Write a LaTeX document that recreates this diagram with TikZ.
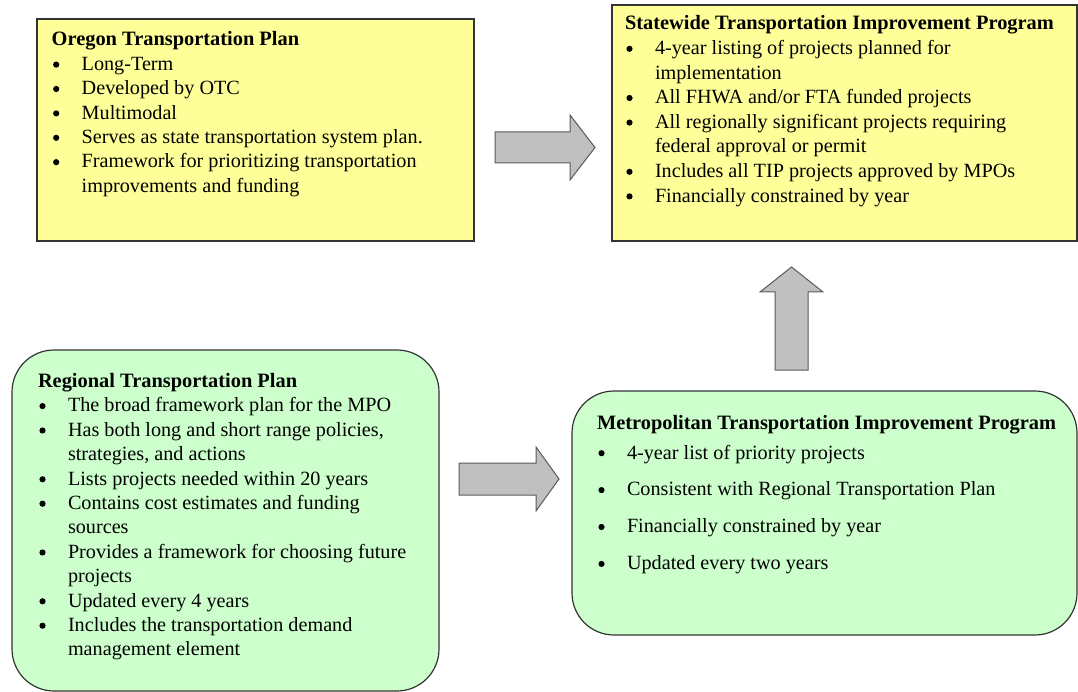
\documentclass[tikz,border=0pt]{standalone}
\usepackage{fontspec}
\setmainfont{Liberation Serif}
\definecolor{boxyellow}{HTML}{FFFF99}
\definecolor{boxgreen}{HTML}{CCFFCC}
\definecolor{arrowfill}{HTML}{C0C0C0}
\definecolor{arrowline}{HTML}{5A5A5A}
\definecolor{edgecol}{HTML}{333333}
\newcommand\bigbullet{\tikz[baseline=0pt]\fill[black] (0pt,5.8pt) circle[radius=3.1pt];}
\newcommand\bul[1]{\par\makebox[30pt][l]{\hspace*{4.5pt}\makebox[0pt]{\bigbullet}}#1}
\newcommand\cnt[1]{\par\hspace*{30pt}#1}
\newcommand\ttl[1]{{\fontsize{20.4}{20}\selectfont\textbf{#1}}}
\newcommand\boxtext[2]{\begin{minipage}[t]{480pt}\fontsize{20.2}{#1}\selectfont\raggedright\parindent=0pt #2\end{minipage}}
\begin{document}
\begin{tikzpicture}[x=1pt,y=-1pt,
  plainbox/.style={rectangle, draw=edgecol, line width=1.2pt, fill=boxyellow, inner sep=0pt, outer sep=0pt},
  roundbox/.style={rectangle, draw=edgecol, line width=1.2pt, fill=boxgreen, rounded corners=42pt, inner sep=0pt, outer sep=0pt},
  blockarrow/.style={draw=arrowline, line width=1pt, fill=arrowfill, line join=miter},
  listtext/.style={anchor=base west, inner sep=0pt, outer sep=0pt, text=black}]
\useasboundingbox (0,0) rectangle (1078,692);

% boxes
\node[plainbox, minimum width=437pt, minimum height=222pt] (otp) at (255.5,130) {};
\node[plainbox, minimum width=465pt, minimum height=236pt] (stip) at (844.5,123) {};
\node[roundbox, minimum width=427pt, minimum height=341pt] (rtp) at (225.5,520.5) {};
\node[roundbox, minimum width=505pt, minimum height=244pt] (mtip) at (824.5,513) {};

% texts
\node[listtext] (otptext) at (51.7,46) {\boxtext{24.4pt}{\ttl{Oregon Transportation Plan}
\bul{Long-Term}
\bul{Developed by OTC}
\bul{Multimodal}
\bul{Serves as state transportation system plan.}
\bul{Framework for prioritizing transportation}
\cnt{improvements and funding}}};

\node[listtext] (stiptext) at (625,30) {\boxtext{24.6pt}{\ttl{Statewide Transportation Improvement Program}
\bul{4-year listing of projects planned for}
\cnt{implementation}
\bul{All FHWA and/or FTA funded projects}
\bul{All regionally significant projects requiring}
\cnt{federal approval or permit}
\bul{Includes all TIP projects approved by MPOs}
\bul{Financially constrained by year}}};

\node[listtext] (rtptext) at (38,387.5) {\boxtext{24.4pt}{\ttl{Regional Transportation Plan}
\bul{The broad framework plan for the MPO}
\bul{Has both long and short range policies,}
\cnt{strategies, and actions}
\bul{Lists projects needed within 20 years}
\bul{Contains cost estimates and funding}
\cnt{sources}
\bul{Provides a framework for choosing future}
\cnt{projects}
\bul{Updated every 4 years}
\bul{Includes the transportation demand}
\cnt{management element}}};

\node[listtext] (mtiptext) at (597,429.5) {\boxtext{36.9pt}{\ttl{Metropolitan Transportation Improvement Program}\par\vspace{-7.4pt}
\bul{4-year list of priority projects}
\bul{Consistent with Regional Transportation Plan}
\bul{Financially constrained by year}
\bul{Updated every two years}}};

% block arrows
\draw[blockarrow] (495,132) -- (570,132) -- (570,115) -- (595,147.5) -- (570,180) -- (570,163) -- (495,163) -- cycle;
\draw[blockarrow] (775,370) -- (775,292) -- (760,292) -- (791.5,267) -- (823,292) -- (808,292) -- (808,370) -- cycle;
\draw[blockarrow] (459,463) -- (536,463) -- (536,447) -- (559,479) -- (536,511) -- (536,495) -- (459,495) -- cycle;
\end{tikzpicture}
\end{document}
